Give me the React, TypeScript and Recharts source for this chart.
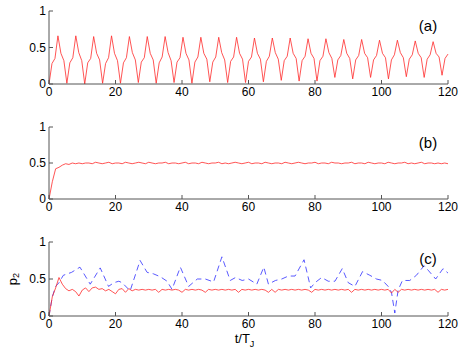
import React from 'react';
import { Line, LineChart, XAxis, YAxis } from 'recharts';

// panel (a): one sample every 120/134 time units
const T_STEP_A = 120 / 134;
const pA = [
  0.0, 0.28, 0.35, 0.66, 0.42, 0.32,
  0.01, 0.29, 0.36, 0.66, 0.43, 0.32,
  0.0, 0.29, 0.35, 0.65, 0.42, 0.33,
  0.01, 0.28, 0.36, 0.66, 0.42, 0.32,
  0.01, 0.29, 0.36, 0.65, 0.43, 0.33,
  0.02, 0.3, 0.36, 0.65, 0.42, 0.33,
  0.01, 0.29, 0.37, 0.65, 0.43, 0.32,
  0.02, 0.3, 0.36, 0.64, 0.42, 0.33,
  0.01, 0.3, 0.37, 0.64, 0.42, 0.34,
  0.03, 0.3, 0.37, 0.64, 0.43, 0.33,
  0.02, 0.31, 0.37, 0.64, 0.42, 0.34,
  0.02, 0.31, 0.37, 0.63, 0.42, 0.34,
  0.03, 0.31, 0.38, 0.63, 0.43, 0.34,
  0.05, 0.32, 0.38, 0.63, 0.42, 0.35,
  0.04, 0.32, 0.38, 0.62, 0.42, 0.35,
  0.04, 0.32, 0.38, 0.62, 0.43, 0.35,
  0.09, 0.33, 0.39, 0.61, 0.42, 0.35,
  0.07, 0.33, 0.39, 0.61, 0.42, 0.36,
  0.09, 0.33, 0.39, 0.6, 0.42, 0.36,
  0.07, 0.33, 0.4, 0.6, 0.43, 0.36,
  0.1, 0.34, 0.4, 0.59, 0.42, 0.36,
  0.09, 0.34, 0.4, 0.58, 0.42, 0.37,
  0.12, 0.35, 0.41,
];

// panels (b) and (c) red: one sample per time unit, t = 0..120
const pB = [
  0.0, 0.24, 0.42, 0.44, 0.47, 0.49, 0.48, 0.5, 0.49, 0.5,
  0.49, 0.5, 0.5, 0.49, 0.51, 0.5, 0.49, 0.5, 0.51, 0.49,
  0.5, 0.5, 0.49, 0.51, 0.5, 0.49, 0.5, 0.51, 0.5, 0.49,
  0.51, 0.5, 0.49, 0.5, 0.5, 0.51, 0.49, 0.5, 0.5, 0.49,
  0.5, 0.51, 0.49, 0.5, 0.5, 0.49, 0.51, 0.5, 0.49, 0.5,
  0.5, 0.51, 0.49, 0.5, 0.49, 0.5, 0.51, 0.5, 0.49, 0.5,
  0.51, 0.49, 0.5, 0.5, 0.49, 0.51, 0.5, 0.49, 0.5, 0.5,
  0.49, 0.51, 0.5, 0.49, 0.5, 0.51, 0.5, 0.49, 0.5, 0.5,
  0.51, 0.49, 0.5, 0.5, 0.49, 0.51, 0.5, 0.5, 0.49, 0.5,
  0.5, 0.51, 0.49, 0.5, 0.5, 0.49, 0.51, 0.5, 0.49, 0.5,
  0.5, 0.49, 0.51, 0.5, 0.49, 0.5, 0.5, 0.51, 0.49, 0.5,
  0.49, 0.5, 0.51, 0.49, 0.5, 0.5, 0.49, 0.5, 0.49, 0.5,
  0.49,
];

const pCred = [
  0.0, 0.26, 0.38, 0.52, 0.43, 0.37, 0.34, 0.36, 0.33, 0.27,
  0.35, 0.38, 0.33, 0.38, 0.39, 0.36, 0.37, 0.34, 0.36, 0.33,
  0.3, 0.36, 0.37, 0.32, 0.37, 0.34, 0.36, 0.35, 0.36, 0.35,
  0.36, 0.35, 0.36, 0.32, 0.36, 0.35, 0.36, 0.35, 0.36, 0.35,
  0.32, 0.36, 0.35, 0.36, 0.35, 0.36, 0.35, 0.32, 0.36, 0.35,
  0.36, 0.35, 0.36, 0.35, 0.36, 0.35, 0.36, 0.32, 0.36, 0.35,
  0.36, 0.35, 0.36, 0.35, 0.36, 0.35, 0.32, 0.36, 0.32, 0.36,
  0.35, 0.36, 0.35, 0.36, 0.35, 0.36, 0.35, 0.36, 0.35, 0.32,
  0.36, 0.35, 0.36, 0.35, 0.36, 0.35, 0.36, 0.35, 0.36, 0.35,
  0.36, 0.32, 0.36, 0.35, 0.36, 0.35, 0.36, 0.35, 0.36, 0.35,
  0.36, 0.35, 0.36, 0.31, 0.36, 0.32, 0.36, 0.35, 0.36, 0.35,
  0.36, 0.35, 0.36, 0.35, 0.36, 0.35, 0.36, 0.32, 0.36, 0.35,
  0.36,
];

// panel (c) blue dashed, irregular times
const tCblue = [
  0, 1, 2, 3, 4.3, 6.8, 9.3, 12.4, 15.4, 17.9, 19.5, 21, 22, 24.4, 27.4, 29.5,
  31.4, 33.5, 35.5, 37, 39.5, 42, 44.6, 47, 49.5, 52, 54.5, 56.1, 58.1, 60,
  62.5, 64.6, 66, 68.1, 70, 72, 74, 76.7, 78.7, 80, 82, 84, 86, 88.2, 90, 92,
  94.3, 96.5, 98.5, 100.3, 102, 103, 104, 105, 106.3, 108.5, 110.5, 112.8, 114,
  116.3, 118.5, 120,
];
const pCblue = [
  0.0, 0.26, 0.4, 0.45, 0.55, 0.59, 0.66, 0.43, 0.65, 0.4, 0.45, 0.47, 0.45, 0.34, 0.75, 0.59,
  0.57, 0.53, 0.47, 0.36, 0.66, 0.4, 0.5, 0.5, 0.46, 0.8, 0.48, 0.52, 0.48, 0.5,
  0.43, 0.66, 0.43, 0.48, 0.5, 0.54, 0.54, 0.76, 0.38, 0.45, 0.52, 0.47, 0.47, 0.64, 0.45, 0.4,
  0.6, 0.55, 0.5, 0.48, 0.4, 0.32, 0.04, 0.35, 0.48, 0.48, 0.55, 0.68, 0.62,
  0.5, 0.64, 0.58,
];

const X_TICKS = [0, 20, 40, 60, 80, 100, 120];
const Y_TICKS = [0, 0.5, 1];
const PANEL_LABELS = ['(a)', '(b)', '(c)'];

const dataA = pA.map((p, i) => ({ t: i * T_STEP_A, p }));
const dataB = pB.map((p, i) => ({ t: i, p }));
const dataCred = pCred.map((p, i) => ({ t: i, p }));
const dataCblue = tCblue.map((t, i) => ({ t, p: pCblue[i] }));

const FONT = '"Liberation Sans", Arial, Helvetica, sans-serif';
const AXIS = '#555';
const RED = '#ff2a2a';
const BLUE = '#3030ff';
const tickFont = { fill: '#000', fontSize: 12, fontFamily: FONT };

function XLabel(props: any) {
  const vb = props.viewBox || {};
  const cx = vb.x + vb.width / 2;
  return (
    <text x={cx - 4} y={vb.y + 27} textAnchor="middle" fontSize={13} fontFamily={FONT} fill="#000">
      t/T
      <tspan fontSize={9} dy={4}>J</tspan>
    </text>
  );
}

function YLabel(props: any) {
  const vb = props.viewBox || {};
  const cx = 12;
  const cy = vb.y + vb.height / 2;
  return (
    <text
      x={cx}
      y={cy}
      transform={`rotate(-90, ${cx}, ${cy})`}
      textAnchor="middle"
      dominantBaseline="central"
      fontSize={13}
      fontFamily={FONT}
      fill="#000"
    >
      p
      <tspan fontSize={9} dy={4}>2</tspan>
    </text>
  );
}

function Panel({
  top,
  height,
  bottomSpace,
  children,
  withLabels,
}: {
  top: number;
  height: number;
  bottomSpace: number;
  children: React.ReactNode;
  withLabels?: boolean;
}) {
  return (
    <div style={{ position: 'absolute', left: 0, top }}>
      <LineChart width={463} height={height} margin={{ top: 11, right: 15, bottom: 0, left: 0 }}>
        <XAxis
          dataKey="t"
          type="number"
          domain={[0, 120]}
          ticks={X_TICKS}
          interval={0}
          height={bottomSpace}
          tickSize={-4}
          tickMargin={7}
          stroke={AXIS}
          tick={tickFont}
          label={withLabels ? <XLabel /> : undefined}
        />
        <XAxis
          xAxisId="top"
          orientation="top"
          dataKey="t"
          type="number"
          domain={[0, 120]}
          ticks={X_TICKS}
          height={0}
          tickSize={-4}
          stroke={AXIS}
          tick={() => null}
        />
        <YAxis
          domain={[0, 1]}
          ticks={Y_TICKS}
          interval={0}
          width={49}
          tickSize={-4}
          tickMargin={7}
          stroke={AXIS}
          tick={tickFont}
          label={withLabels ? <YLabel /> : undefined}
        />
        <YAxis
          yAxisId="right"
          orientation="right"
          domain={[0, 1]}
          ticks={Y_TICKS}
          width={0}
          tickSize={-4}
          stroke={AXIS}
          tick={() => null}
        />
        {children}
      </LineChart>
    </div>
  );
}

export default function App() {
  const labelTops = [18, 135, 251];
  return (
    <div style={{ position: 'absolute', left: 0, top: 0, width: 463, height: 355, background: '#fff' }}>
      <Panel top={0} height={110} bottomSpace={26}>
        <Line data={dataA} dataKey="p" stroke={RED} strokeWidth={0.8} dot={false} isAnimationActive={false} />
      </Panel>
      <Panel top={116} height={109} bottomSpace={26}>
        <Line data={dataB} dataKey="p" stroke={RED} strokeWidth={0.8} dot={false} isAnimationActive={false} />
      </Panel>
      <Panel top={231} height={124} bottomSpace={39} withLabels>
        <Line data={dataCblue} dataKey="p" stroke={BLUE} strokeWidth={0.8} strokeDasharray="6 4" dot={false} isAnimationActive={false} />
        <Line data={dataCred} dataKey="p" stroke={RED} strokeWidth={0.8} dot={false} isAnimationActive={false} />
      </Panel>
      {PANEL_LABELS.map((s, i) => (
        <div
          key={s}
          style={{
            position: 'absolute',
            left: 412,
            top: labelTops[i],
            width: 32,
            textAlign: 'center',
            fontFamily: FONT,
            fontSize: 15,
            lineHeight: '15px',
            color: '#000',
          }}
        >
          {s}
        </div>
      ))}
    </div>
  );
}
